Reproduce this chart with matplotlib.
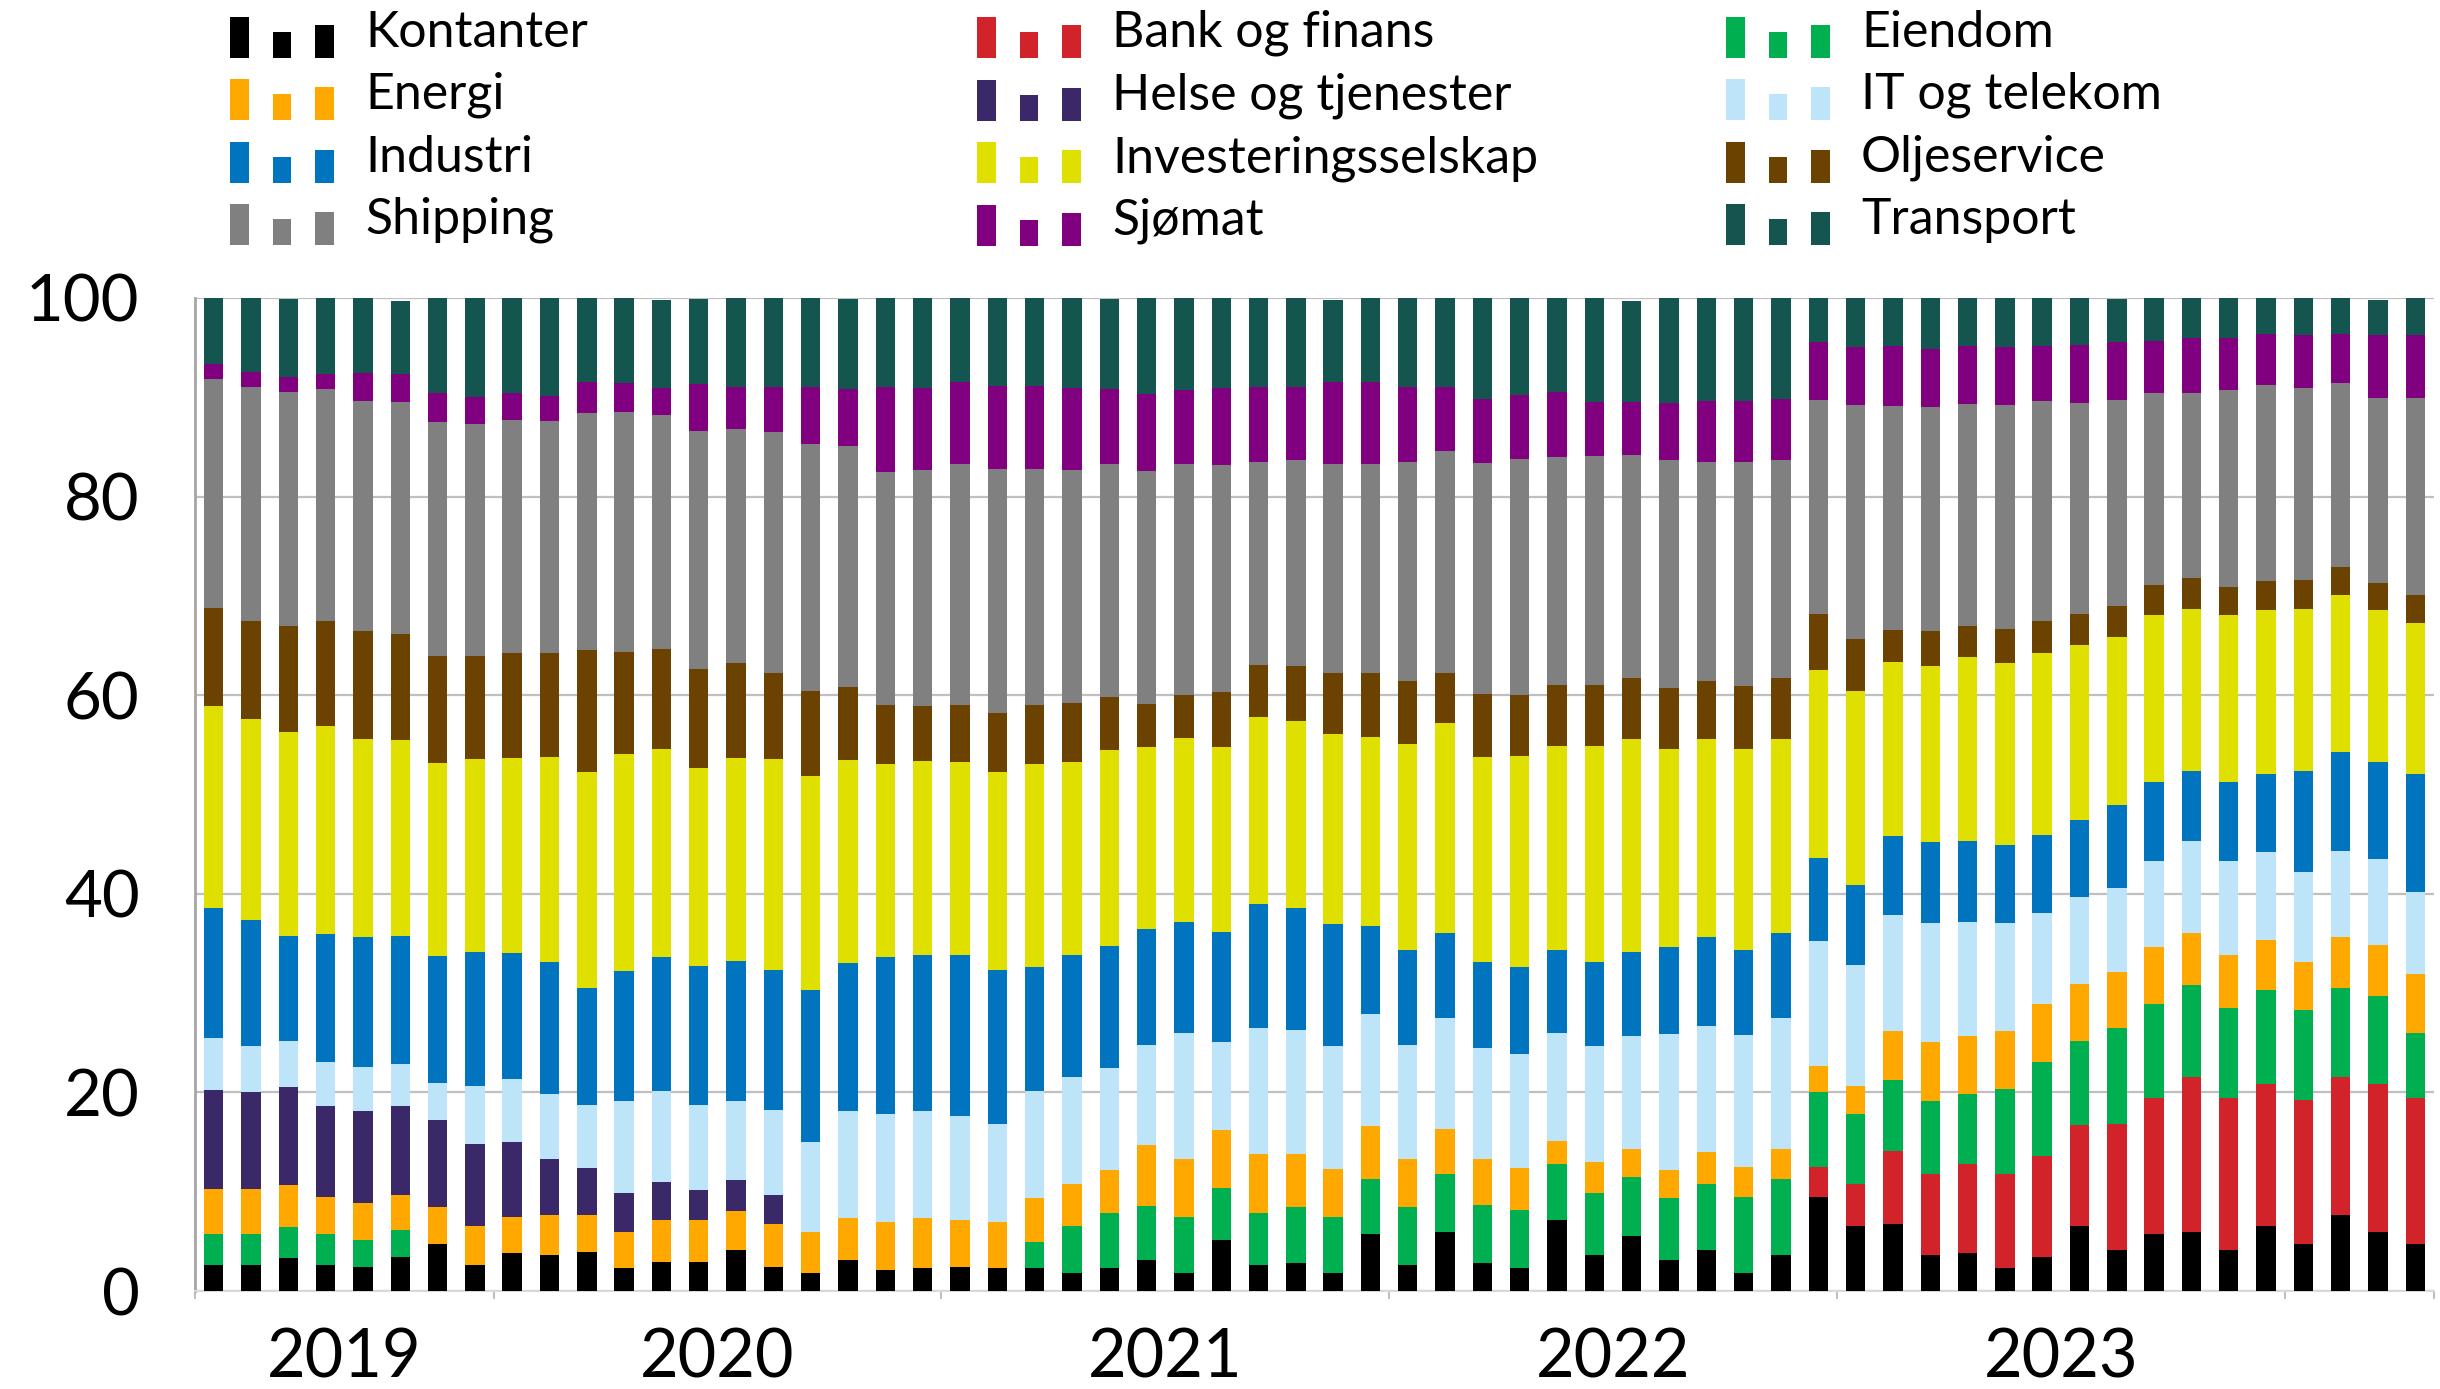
import numpy as np
import pandas as pd
import matplotlib
matplotlib.use('Agg')
import matplotlib.pyplot as plt
from matplotlib.patches import Rectangle
from matplotlib.container import BarContainer
from matplotlib.legend_handler import HandlerBase

plt.rcParams['font.family'] = ['Lato', 'DejaVu Sans']

# monthly shares (%), May 2019 - Apr 2024
months = pd.period_range('2019-05', '2024-04', freq='M')

kontanter = [2.6, 2.6, 3.3, 2.6, 2.4, 3.4, 4.7, 2.6, 3.8, 3.6,
             3.9, 2.3, 2.9, 2.9, 4.1, 2.4, 1.8, 3.1, 2.1, 2.3,
             2.4, 2.3, 2.3, 1.8, 2.3, 3.1, 1.8, 5.1, 2.6, 2.8,
             1.8, 5.7, 2.6, 5.9, 2.8, 2.3, 7.1, 3.6, 5.5, 3.1,
             4.1, 1.8, 3.6, 9.5, 6.5, 6.7, 3.6, 3.8, 2.3, 3.4,
             6.5, 4.1, 5.7, 5.9, 4.1, 6.5, 4.7, 7.7, 5.9, 4.7]
bank = [0, 0, 0, 0, 0, 0, 0, 0, 0, 0,
        0, 0, 0, 0, 0, 0, 0, 0, 0, 0,
        0, 0, 0, 0, 0, 0, 0, 0, 0, 0,
        0, 0, 0, 0, 0, 0, 0, 0, 0, 0,
        0, 0, 0, 3.0, 4.3, 7.4, 8.2, 9.0, 9.5, 10.2,
        10.2, 12.7, 13.7, 15.7, 15.3, 14.3, 14.5, 13.9, 14.9, 14.7]
eiendom = [3.1, 3.1, 3.1, 3.1, 2.7, 2.7, 0, 0, 0, 0,
           0, 0, 0, 0, 0, 0, 0, 0, 0, 0,
           0, 0, 2.6, 4.7, 5.6, 5.5, 5.7, 5.3, 5.3, 5.7,
           5.7, 5.6, 5.9, 5.9, 5.9, 5.9, 5.7, 6.3, 6.0, 6.3,
           6.7, 7.7, 7.7, 7.5, 7.0, 7.1, 7.3, 7.0, 8.5, 9.5,
           8.5, 9.7, 9.5, 9.2, 9.1, 9.5, 9.1, 8.9, 8.9, 6.6]
energi = [4.6, 4.6, 4.3, 3.8, 3.8, 3.6, 3.8, 3.9, 3.7, 4.1,
          3.8, 3.6, 4.2, 4.2, 4.0, 4.3, 4.1, 4.3, 4.8, 5.1,
          4.7, 4.6, 4.5, 4.3, 4.3, 6.1, 5.8, 5.8, 5.9, 5.3,
          4.8, 5.3, 4.8, 4.5, 4.6, 4.2, 2.3, 3.1, 2.8, 2.8,
          3.2, 3.0, 3.0, 2.7, 2.8, 5.0, 6.0, 5.9, 5.9, 5.8,
          5.7, 5.6, 5.7, 5.3, 5.3, 5.0, 4.8, 5.1, 5.1, 5.9]
helse = [9.9, 9.7, 9.8, 9.1, 9.2, 8.9, 8.7, 8.3, 7.5, 5.6,
         4.7, 4.0, 3.9, 3.1, 3.1, 3.0, 0, 0, 0, 0,
         0, 0, 0, 0, 0, 0, 0, 0, 0, 0,
         0, 0, 0, 0, 0, 0, 0, 0, 0, 0,
         0, 0, 0, 0, 0, 0, 0, 0, 0, 0,
         0, 0, 0, 0, 0, 0, 0, 0, 0, 0]
it_telekom = [5.3, 4.7, 4.7, 4.5, 4.5, 4.3, 3.7, 5.8, 6.3, 6.5,
              6.3, 9.2, 9.1, 8.5, 7.9, 8.5, 9.1, 10.7, 10.9, 10.7,
              10.5, 9.9, 10.7, 10.8, 10.3, 10.1, 12.7, 8.9, 12.7, 12.5,
              12.4, 11.3, 11.5, 11.2, 11.2, 11.5, 10.9, 11.7, 11.4, 13.7,
              12.7, 13.3, 13.2, 12.5, 12.2, 11.7, 12.0, 11.5, 10.9, 9.2,
              8.8, 8.5, 8.7, 9.2, 9.5, 8.9, 9.1, 8.7, 8.7, 8.3]
industri = [13.1, 12.7, 10.5, 12.9, 13.0, 12.9, 12.8, 13.5, 12.7, 13.3,
            11.8, 13.1, 13.5, 14.0, 14.1, 14.1, 15.3, 14.9, 15.8, 15.7,
            16.2, 15.5, 12.5, 12.2, 12.2, 11.7, 11.2, 11.1, 12.5, 12.3,
            12.3, 8.9, 9.5, 8.6, 8.6, 8.7, 8.3, 8.4, 8.4, 8.7,
            8.9, 8.5, 8.6, 8.4, 8.1, 7.9, 8.1, 8.1, 7.8, 7.8,
            7.7, 8.3, 8.0, 7.1, 8.0, 7.9, 10.2, 10.0, 9.8, 11.9]
invest = [20.3, 20.2, 20.6, 20.9, 20.0, 19.7, 19.5, 19.5, 19.7, 20.7,
          21.8, 21.9, 21.0, 20.0, 20.5, 21.3, 21.6, 20.5, 19.5, 19.6,
          19.5, 20.0, 20.5, 19.5, 19.8, 18.3, 18.5, 18.6, 18.8, 18.8,
          19.1, 19.0, 20.8, 21.1, 20.7, 21.3, 20.6, 21.8, 21.5, 20.0,
          20.0, 20.3, 19.5, 18.9, 19.5, 17.5, 17.7, 18.5, 18.3, 18.3,
          17.7, 17.0, 16.8, 16.3, 16.8, 16.5, 16.3, 15.8, 15.3, 15.2]
olje = [9.9, 9.9, 10.7, 10.6, 10.9, 10.7, 10.7, 10.3, 10.5, 10.5,
        12.3, 10.3, 10.1, 9.9, 9.5, 8.6, 8.5, 7.3, 5.9, 5.5,
        5.7, 5.9, 5.9, 5.9, 5.3, 4.3, 4.3, 5.5, 5.2, 5.5,
        6.1, 6.4, 6.3, 5.0, 6.3, 6.1, 6.1, 6.1, 6.1, 6.1,
        5.8, 6.3, 6.1, 5.7, 5.3, 3.3, 3.6, 3.2, 3.5, 3.3,
        3.1, 3.1, 3.0, 3.1, 2.8, 2.9, 2.9, 2.8, 2.7, 2.8]
shipping = [23.0, 23.5, 23.5, 23.3, 23.1, 23.3, 23.6, 23.4, 23.5, 23.3,
            23.8, 24.1, 23.5, 24.0, 23.6, 24.3, 24.9, 24.3, 23.5, 23.8,
            24.3, 24.6, 23.8, 23.5, 23.5, 23.5, 23.3, 22.9, 20.5, 20.8,
            21.1, 21.1, 22.1, 22.4, 23.3, 23.8, 23.0, 23.1, 22.5, 23.0,
            22.1, 22.6, 22.0, 21.5, 23.5, 22.5, 22.5, 22.3, 22.5, 22.1,
            21.2, 20.7, 19.3, 18.6, 19.8, 19.7, 19.3, 18.5, 18.6, 19.8]
sjomat = [1.6, 1.5, 1.5, 1.5, 2.8, 2.8, 2.9, 2.7, 2.7, 2.5,
          3.1, 2.9, 2.7, 4.7, 4.2, 4.5, 5.7, 5.7, 8.5, 8.2,
          8.2, 8.3, 8.3, 8.2, 7.5, 7.7, 7.4, 7.7, 7.5, 7.3,
          8.2, 8.2, 7.5, 6.4, 6.4, 6.4, 6.5, 5.4, 5.3, 5.7,
          6.1, 6.1, 6.1, 5.9, 5.9, 6.1, 5.9, 5.9, 5.9, 5.6,
          5.9, 5.9, 5.3, 5.6, 5.3, 5.2, 5.4, 5.0, 6.4, 6.4]
transport = [6.6, 7.5, 7.9, 7.7, 7.7, 7.4, 9.9, 10.0, 9.7, 10.0,
             8.5, 8.6, 8.9, 8.6, 9.0, 9.0, 9.1, 9.1, 9.1, 9.1,
             8.6, 9.0, 9.0, 9.1, 9.1, 9.7, 9.4, 9.1, 9.1, 9.0,
             8.3, 8.6, 9.0, 9.1, 10.2, 9.9, 9.7, 10.6, 10.2, 10.6,
             10.5, 10.5, 10.2, 4.6, 4.9, 4.9, 5.1, 4.9, 4.9, 4.9,
             4.9, 4.3, 4.3, 4.1, 4.1, 3.8, 3.8, 3.7, 3.5, 3.8]

names = ['Kontanter', 'Bank og finans', 'Eiendom', 'Energi', 'Helse og tjenester',
         'IT og telekom', 'Industri', 'Investeringsselskap', 'Oljeservice',
         'Shipping', 'Sjømat', 'Transport']
series = [kontanter, bank, eiendom, energi, helse, it_telekom, industri,
          invest, olje, shipping, sjomat, transport]
colors = ['#000000', '#D2232A', '#00B050', '#FFA800', '#3B2868', '#BDE4F8',
          '#0074BF', '#DFDF00', '#6B4200', '#808080', '#800080', '#145550']


class ThreeBars(HandlerBase):
    # excel style column icon
    def create_artists(self, legend, orig_handle, xdescent, ydescent,
                       width, height, fontsize, trans):
        col = orig_handle.patches[0].get_facecolor()
        bw = width * 0.18
        y0 = -0.22 * fontsize
        out = []
        for off, h in zip([0, 0.41, 0.82], [0.82, 0.52, 0.66]):
            out.append(Rectangle((-xdescent + off * width, y0), bw, h * fontsize,
                                 facecolor=col, linewidth=0, transform=trans))
        return out


fig = plt.figure(figsize=(24.4, 13.89), dpi=100)
ax = fig.add_axes([195 / 2440, 1 - 1291 / 1389, (2434 - 195) / 2440, (1291 - 298) / 1389])

x = np.arange(len(months))
bottom = np.zeros(len(months))
handles = []
for name, vals, col in zip(names, series, colors):
    vals = np.array(vals)
    b = ax.bar(x, vals, 0.52, bottom=bottom, color=col, linewidth=0, label=name, zorder=3)
    bottom += vals
    handles.append(b)

ax.set_xlim(-0.5, len(months) - 0.5)
ax.set_ylim(0, 100)
ax.set_yticks([0, 20, 40, 60, 80, 100])

# year labels centred under each group of months
years = months.year
uniq = sorted(set(years))
centers, bounds = [], [-0.5]
for yr in uniq:
    idx = np.where(years == yr)[0]
    centers.append(idx.mean())
    bounds.append(idx[-1] + 0.5)
labels = [str(y) for y in uniq]
# last (partial) year has no label in the original
ax.set_xticks(centers[:-1])
ax.set_xticklabels(labels[:-1])
ax.set_xticks(bounds, minor=True)

ax.tick_params(axis='y', length=0, pad=40, labelsize=47)
ax.tick_params(axis='x', which='major', length=0, pad=26, labelsize=48)
ax.tick_params(axis='x', which='minor', length=6, width=1.5, color='#BFBFBF')

ax.yaxis.grid(True, color='#BFBFBF', linewidth=1.6, zorder=0)
ax.set_axisbelow(True)
for s in ['top', 'right']:
    ax.spines[s].set_visible(False)
ax.spines['left'].set_color('#A6A6A6')
ax.spines['left'].set_linewidth(2)
ax.spines['bottom'].set_color('#D9D9D9')
ax.spines['bottom'].set_linewidth(1.5)

col_x = [230 / 2440, 977 / 2440, 1726 / 2440]
for i in range(3):
    fig.legend(handles[i::3], names[i::3], loc='upper left',
               bbox_to_anchor=(col_x[i], 1 - 10 / 1389), bbox_transform=fig.transFigure,
               frameon=False, fontsize=36, borderpad=0, borderaxespad=0,
               handlelength=2.08, handleheight=0.82, handletextpad=0.62,
               labelspacing=0.32, handler_map={BarContainer: ThreeBars()})

fig.savefig('out.png', dpi=100)
